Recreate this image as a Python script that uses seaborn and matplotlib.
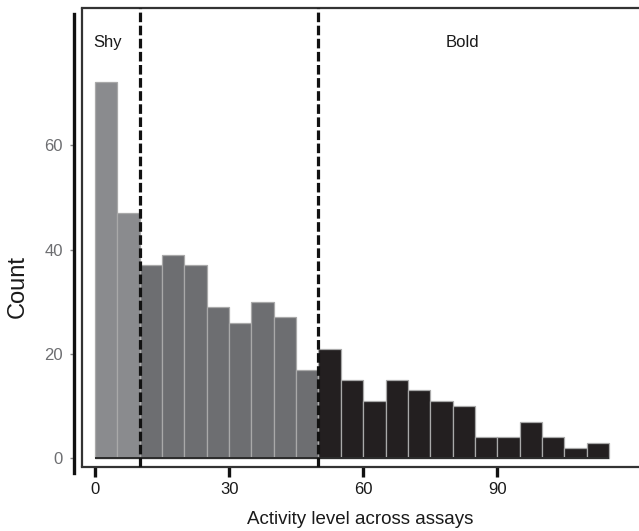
import numpy as np
import pandas as pd
import matplotlib
matplotlib.use('Agg')
import matplotlib.pyplot as plt
import seaborn as sns

# Histogram counts (bin width 5, from 0 to 115)
bin_edges = list(range(0, 120, 5))
counts = [72, 47, 37, 39, 37, 29, 26, 30, 27, 17,
          21, 15, 11, 15, 13, 11, 10, 4, 4, 7, 4, 2, 3]
groups = ['low'] * 2 + ['mid'] * 8 + ['high'] * 13
palette = {'low': '#8a8b8e', 'mid': '#6d6e71', 'high': '#231f20'}

cutoffs = [10, 50]
labels = [('Shy', 2.8), ('Bold', 82.3)]
x_ticks = [0, 30, 60, 90]
y_ticks = [0, 20, 40, 60]


def main():
    sns.set_style('white')
    plt.rcParams['font.family'] = ['Liberation Sans', 'DejaVu Sans']

    df = pd.DataFrame({
        'activity': [e + 2.5 for e in bin_edges[:-1]],
        'count': counts,
        'group': groups,
    })

    fig = plt.figure(figsize=(6.39, 5.31), dpi=100)
    ax = fig.add_axes([82.3 / 639, 1 - 466.7 / 531, (639 - 82.3) / 639, 458.4 / 531])

    sns.histplot(data=df, x='activity', weights='count', bins=bin_edges,
                 hue='group', palette=palette, alpha=1, edgecolor='#a9a9a9',
                 linewidth=0.9, legend=False, ax=ax)

    # baseline under the bars
    ax.hlines(0, 0, 115, color='#2b2b2b', lw=1.4, zorder=4)

    for c in cutoffs:
        ax.axvline(c, color='#111111', lw=2.3, dashes=(3, 1.1), zorder=5)

    for txt, xpos in labels:
        ax.text(xpos, 79.6, txt, ha='center', va='center', fontsize=12, color='#1a1a1a')

    ax.set_xlim(-2.84, 121.7)
    ax.set_ylim(-1.6, 86.2)

    # panel box: top, bottom, left border (right side runs off the figure)
    for side in ['top', 'bottom']:
        ax.spines[side].set_color('#333333')
        ax.spines[side].set_linewidth(1.6)
    ax.spines['right'].set_visible(False)
    ax.plot([0, 0], [0, 1], transform=ax.transAxes, color='#333333', lw=1.6,
            clip_on=False, zorder=6)

    # separate y axis line, offset to the left
    ax.spines['left'].set_position(('outward', 6))
    ax.spines['left'].set_color('#111111')
    ax.spines['left'].set_linewidth(2.4)
    ax.spines['left'].set_bounds(-2.8, 85.2)

    ax.set_xticks(x_ticks)
    ax.set_yticks(y_ticks)
    ax.tick_params(axis='x', direction='out', length=7, width=2.4, color='#111111',
                   labelsize=12, labelcolor='#1a1a1a', pad=4, bottom=True)
    ax.tick_params(axis='y', direction='out', length=3, width=1, color='#888888',
                   labelsize=12, labelcolor='#6d6e71', pad=5, left=True)

    ax.set_xlabel('Activity level across assays', fontsize=13.5, color='#1a1a1a', labelpad=10)
    ax.set_ylabel('Count', fontsize=17, color='#1a1a1a')
    ax.yaxis.set_label_coords(-0.097, 0.394)

    fig.savefig('out.png', dpi=100)
    plt.close(fig)


if __name__ == '__main__':
    main()
